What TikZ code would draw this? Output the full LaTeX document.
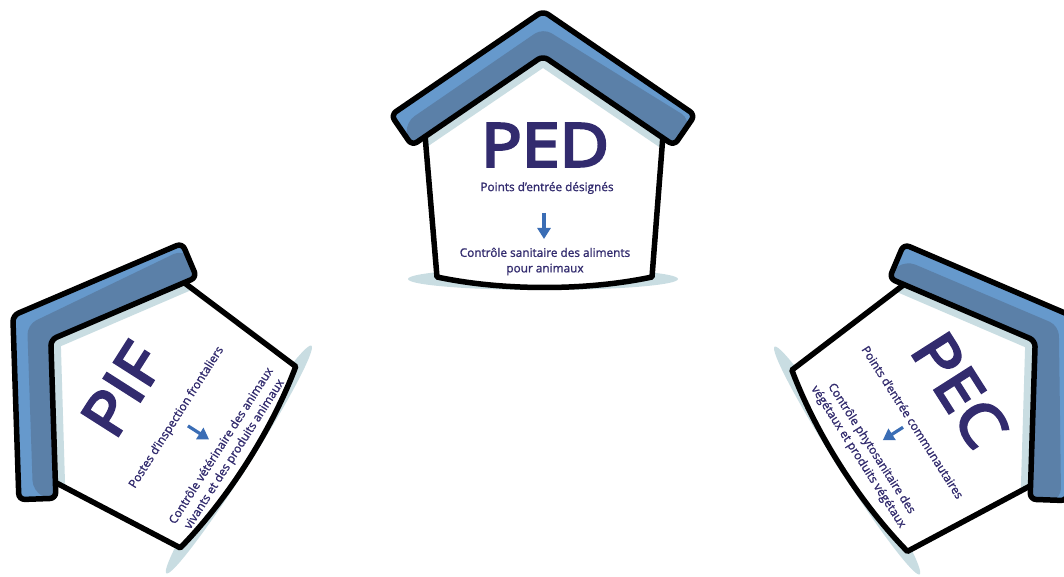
\documentclass[tikz,border=0pt]{standalone}
\usepackage{fontspec}
\setmainfont{Open Sans}
\newfontfamily\titlefont[FakeBold=4.5,FakeStretch=1.13]{Open Sans}
\newfontfamily\labelfont[FakeBold=1.2]{Open Sans}
\usetikzlibrary{arrows.meta}
\definecolor{roofdark}{HTML}{5B80A8}
\definecolor{rooflight}{HTML}{6699CC}
\definecolor{shadowc}{HTML}{C9DDE2}
\definecolor{inkc}{HTML}{322B6E}
\definecolor{arrowc}{HTML}{3A6DB5}
\tikzset{
  x=1pt,y=1pt,
  outline/.style={draw=black,line width=5.5pt,line join=round},
  titletext/.style={text=inkc,font=\titlefont\fontsize{60}{60}\selectfont,inner sep=0pt,transform shape},
  smalltext/.style={text=inkc,font=\labelfont\fontsize{11.8}{15.5}\selectfont,align=center,inner sep=0pt,transform shape},
  downarrow/.style={draw=arrowc,line width=3.2pt,-{Triangle[length=11pt,width=13pt]}}
}
\newcommand{\houseshape}{%
  \fill[shadowc] (0,-269) ellipse [x radius=135,y radius=11];
  \fill[white] (-118,-125) -- (-106,-267) .. controls (-40,-281) and (43,-281) .. (109,-267) -- (120,-125) -- (0,-40) -- cycle;
  \begin{scope}
    \clip (-118,-125) -- (-106,-267) -- (109,-267) -- (120,-125) -- (0,-40) -- cycle;
    \fill[shadowc] (-125,-131) -- (0,-46) -- (125,-131) -- (125,-143) -- (0,-58) -- (-125,-143) -- cycle;
  \end{scope}
  \draw[outline] (-118,-125) -- (-106,-267) .. controls (-40,-281) and (43,-281) .. (109,-267) -- (120,-125);
  \begin{scope}
    \clip[rounded corners=6] (0,-1) -- (152,-105) -- (131,-135.5) -- (0,-46) -- (-131,-135.5) -- (-152,-105) -- cycle;
    \fill[rooflight] (-160,-140) rectangle (160,5);
    \fill[roofdark,rounded corners=10] (-137,-112) -- (0,-18) -- (147,-109) -- (135,-145) -- (-135,-145) -- cycle;
  \end{scope}
  \draw[outline,rounded corners=6] (0,-1) -- (152,-105) -- (131,-135.5) -- (0,-46) -- (-131,-135.5) -- (-152,-105) -- cycle;
}
\begin{document}
\begin{tikzpicture}
\useasboundingbox (0,0) rectangle (1064,576);
\clip (0,0) rectangle (1064,576);
% PED
\begin{scope}[shift={(543,566)}]
  \houseshape
  \node[titletext] (pedtitle) at (2,-135) {PED};
  \node[smalltext] (pedname) at (4,-178) {Points d’entrée désignés};
  \coordinate (pedfrom) at (1,-203);
  \coordinate (pedto) at (1,-229);
  \draw[downarrow] (pedfrom) -- (pedto);
  \node[smalltext] (peddesc) at (2,-251.5) {Contrôle sanitaire des aliments\\pour animaux};
\end{scope}
% PIF
\begin{scope}[shift={(12,261)},rotate=57.5]
  \houseshape
  \node[titletext] (piftitle) at (-4,-133) {PIF};
  \node[smalltext] (pifname) at (2,-194) {Postes d’inspection frontaliers};
  \coordinate (piffrom) at (1,-208);
  \coordinate (pifto) at (1,-233);
  \draw[downarrow] (piffrom) -- (pifto);
  \node[smalltext] (pifdesc) at (2,-255) {Contrôle vétérinaire des animaux\\vivants et des produits animaux};
\end{scope}
% PEC
\begin{scope}[shift={(1074,260)},rotate=-57.5]
  \houseshape
  \node[titletext] (pectitle) at (1,-136) {PEC};
  \node[smalltext] (pecname) at (3,-193) {Points d’entrée communautaires};
  \coordinate (pecfrom) at (2,-204);
  \coordinate (pecto) at (2,-228);
  \draw[downarrow] (pecfrom) -- (pecto);
  \node[smalltext] (pecdesc) at (3,-250) {Contrôle phytosanitaire des\\végétaux et produits végétaux};
\end{scope}
\end{tikzpicture}
\end{document}
